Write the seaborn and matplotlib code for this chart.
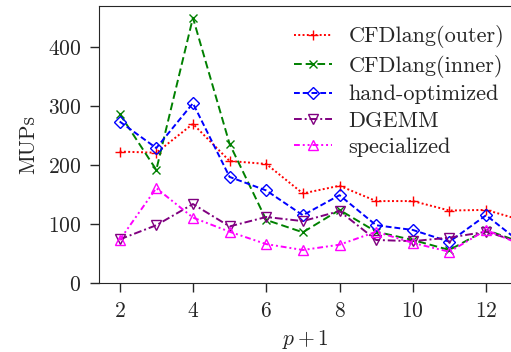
import pandas as pd
import seaborn as sns
import matplotlib.pyplot as plt

sns.set_style("ticks")
plt.rcParams["font.family"] = "serif"
plt.rcParams["font.serif"] = ["cmr10"]
plt.rcParams["mathtext.fontset"] = "cm"
plt.rcParams["axes.formatter.use_mathtext"] = True
plt.rcParams["font.size"] = 15.5

# 数据
p1 = [2, 3, 4, 5, 6, 7, 8, 9, 10, 11, 12, 13]
outer = [223, 221, 270, 207, 202, 152, 165, 139, 139, 123, 124, 106]
inner = [287, 192, 450, 236, 107, 86, 124, 87, 73, 56, 90, 68]
hand = [274, 229, 305, 180, 157, 115, 149, 98, 90, 70, 115, 66]
dgemm = [74, 98, 134, 96, 112, 105, 122, 73, 71, 77, 87, 68]
special = [73, 161, 111, 87, 66, 56, 65, 87, 68, 53, 90, 64]

fig = plt.figure(figsize=(5.11, 3.52), dpi=100)
ax = fig.add_axes([0.194, 0.196, 0.806, 0.787])

series = [
    ("CFDlang(outer)", outer, "red", (0, (1, 1.2)), "+", 7),
    ("CFDlang(inner)", inner, "green", (0, (4, 2)), "x", 6),
    ("hand-optimized", hand, "blue", (0, (3, 1.5)), "D", 6.5),
    ("DGEMM", dgemm, "purple", (0, (4, 1.5, 1, 1.5)), "v", 7),
    ("specialized", special, "magenta", (0, (3, 1.5, 1, 1.5, 1, 1.5)), "^", 7),
]
for name, vals, c, ls, m, ms in series:
    df = pd.DataFrame({"p": p1, "v": vals})
    sns.lineplot(data=df, x="p", y="v", ax=ax, color=c, linestyle=ls, marker=m,
                 markersize=ms, markerfacecolor="none" if m in "Dv^" else c,
                 markeredgecolor=c, markeredgewidth=1.0, linewidth=1.4, label=name)

ax.set_xlim(1.44, 12.68)
ax.set_ylim(0, 470)
ax.set_xticks([2, 4, 6, 8, 10, 12])
ax.set_yticks([0, 100, 200, 300, 400])
ax.tick_params(length=6.5, width=1.0, pad=6.5)
ax.spines["right"].set_visible(False)
ax.set_xlabel(r"$p+1$", labelpad=5)
ax.set_ylabel("MUPs", labelpad=7)
ax.legend(loc="upper right", frameon=False, handlelength=1.7, labelspacing=0.3,
          fontsize=16, handletextpad=0.75, borderaxespad=0.1,
          bbox_to_anchor=(1.01, 0.97))

fig.savefig("out.png", dpi=100)
